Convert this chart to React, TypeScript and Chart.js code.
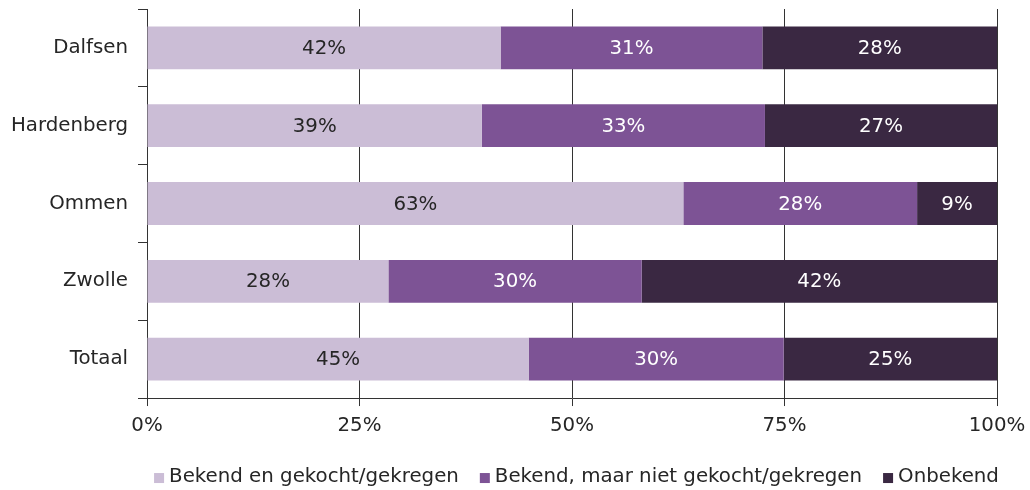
import { useEffect, useRef } from 'react';
import { Chart, registerables } from 'chart.js';

Chart.register(...registerables);

const categories = ['Dalfsen', 'Hardenberg', 'Ommen', 'Zwolle', 'Totaal'];
const seriesNames = ['Bekend en gekocht/gekregen', 'Bekend, maar niet gekocht/gekregen', 'Onbekend'];
const bekendGekocht = [41.6, 39.4, 63.1, 28.4, 44.9];
const bekendNietGekocht = [30.8, 33.3, 27.5, 29.8, 30.0];
const onbekend = [27.6, 27.3, 9.4, 41.8, 25.1];
const xTickValues = [0, 25, 50, 75, 100];

const colors = ['#CBBDD6', '#7D5395', '#3A2842'];
const labelColors = ['#262626', '#FFFFFF', '#FFFFFF'];
const FONT = '"DejaVu Sans", Verdana, sans-serif';
const FS = 19.8;
const AXIS = '#333333';
const TEXT = '#262626';

const valueLabels = {
  id: 'valueLabels',
  afterDatasetsDraw(chart: any) {
    const ctx = chart.ctx;
    ctx.save();
    ctx.font = `${FS}px ${FONT}`;
    ctx.textAlign = 'center';
    ctx.textBaseline = 'middle';
    chart.data.datasets.forEach((ds: any, i: number) => {
      const meta = chart.getDatasetMeta(i);
      meta.data.forEach((bar: any, j: number) => {
        const p = bar.getProps(['x', 'y', 'base'], true);
        const v = ds.data[j];
        ctx.fillStyle = labelColors[i];
        ctx.fillText(Math.round(v) + '%', (p.x + p.base) / 2, p.y + 1);
      });
    });
    ctx.restore();
  },
};

const customLegend = {
  id: 'customLegend',
  afterDraw(chart: any) {
    const ctx = chart.ctx;
    const ca = chart.chartArea;
    ctx.save();
    ctx.font = `${FS}px ${FONT}`;
    ctx.textBaseline = 'middle';
    ctx.textAlign = 'left';
    const box = 10;
    const gap = 5;
    const itemGap = 21;
    const items = chart.data.datasets.map((ds: any) => ({
      label: ds.label,
      color: ds.backgroundColor,
      w: box + gap + ctx.measureText(ds.label).width,
    }));
    const total = items.reduce((s: number, it: any) => s + it.w, 0) + itemGap * (items.length - 1);
    const cy = ca.bottom + 80;
    let x = (ca.left + ca.right) / 2 + 4.5 - total / 2;
    items.forEach((it: any) => {
      ctx.fillStyle = it.color;
      ctx.fillRect(x, cy - box / 2, box, box);
      ctx.fillStyle = TEXT;
      ctx.fillText(it.label, x + box + gap, cy - 1);
      x += it.w + itemGap;
    });
    ctx.restore();
  },
};

export default function App() {
  const ref = useRef<HTMLCanvasElement | null>(null);

  useEffect(() => {
    if (!ref.current) return;
    const seriesValues = [bekendGekocht, bekendNietGekocht, onbekend];
    const chart = new Chart(ref.current, {
      type: 'bar',
      data: {
        labels: categories,
        datasets: seriesNames.map((name, i) => ({
          label: name,
          data: seriesValues[i],
          backgroundColor: colors[i],
          borderWidth: 0,
          categoryPercentage: 1,
          barPercentage: 0.55,
        })),
      },
      options: {
        indexAxis: 'y',
        animation: false,
        responsive: true,
        maintainAspectRatio: false,
        layout: { padding: { top: 9, right: 33, bottom: 44.2, left: 0 } },
        plugins: {
          legend: { display: false },
          tooltip: { enabled: false },
        },
        scales: {
          x: {
            stacked: true,
            min: 0,
            max: 100,
            afterBuildTicks(scale: any) {
              scale.ticks = xTickValues.map((v) => ({ value: v }));
            },
            afterFit(scale: any) {
              scale.paddingLeft = 0;
              scale.paddingRight = 0;
            },
            ticks: {
              callback: (v: any) => v + '%',
              font: { family: FONT, size: FS },
              color: TEXT,
              padding: 8,
              maxRotation: 0,
            },
            grid: { color: AXIS, lineWidth: 1, tickLength: 8, drawTicks: true },
            border: { display: true, color: AXIS, width: 1 },
          },
          y: {
            stacked: true,
            afterFit(scale: any) {
              scale.width = 147;
              scale.paddingTop = 0;
              scale.paddingBottom = 0;
            },
            ticks: {
              font: { family: FONT, size: FS },
              color: TEXT,
              padding: 10,
            },
            grid: { drawOnChartArea: false, drawTicks: true, tickLength: 9, color: AXIS, offset: true },
            border: { display: true, color: AXIS, width: 1 },
          },
        },
      },
      plugins: [valueLabels, customLegend],
    });
    return () => chart.destroy();
  }, []);

  return (
    <div style={{ position: 'absolute', left: 0, top: 0, width: 1030, height: 490, overflow: 'hidden' }}>
      <canvas ref={ref} style={{ display: 'block' }} />
    </div>
  );
}
